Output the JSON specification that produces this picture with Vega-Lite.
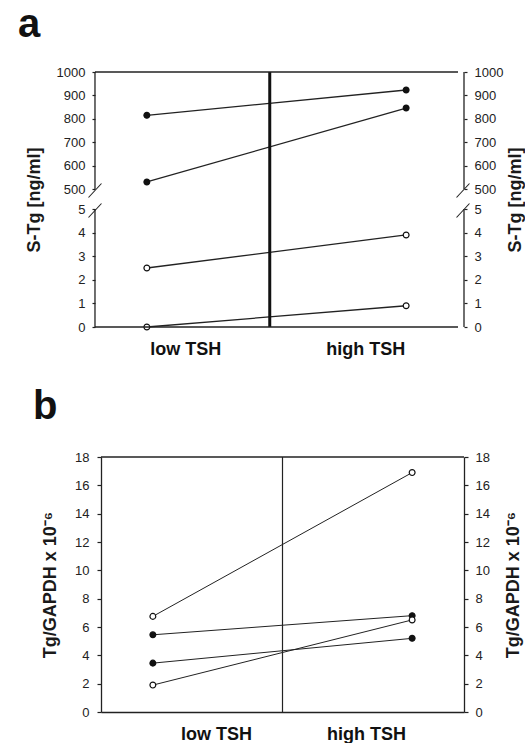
{
  "$schema": "https://vega.github.io/schema/vega-lite/v6.json",
  "padding": {"left": 18, "top": 5, "right": 0, "bottom": 0},
  "background": "white",
  "config": {
    "view": {"stroke": null},
    "font": "Liberation Sans",
    "axis": {"grid": false, "labelFont": "Liberation Sans", "labelFontSize": 13, "labelColor": "#222", "tickColor": "#222", "tickSize": 3, "tickWidth": 1.2, "labelPadding": 7, "domainColor": "#222", "domainWidth": 1.3, "titleFont": "Liberation Sans", "titleFontSize": 18, "titleFontWeight": "bold", "titleColor": "#1a1a1a"}
  },
  "datasets": {
    "panelA": [
      {"s": "a1", "tsh": "low TSH", "pos": 1, "v": 815, "g": "filled"},
      {"s": "a1", "tsh": "high TSH", "pos": 6, "v": 923, "g": "filled"},
      {"s": "a2", "tsh": "low TSH", "pos": 1, "v": 530, "g": "filled"},
      {"s": "a2", "tsh": "high TSH", "pos": 6, "v": 846, "g": "filled"},
      {"s": "a3", "tsh": "low TSH", "pos": 1, "v": 2.5, "g": "open"},
      {"s": "a3", "tsh": "high TSH", "pos": 6, "v": 3.9, "g": "open"},
      {"s": "a4", "tsh": "low TSH", "pos": 1, "v": 0, "g": "open"},
      {"s": "a4", "tsh": "high TSH", "pos": 6, "v": 0.9, "g": "open"}
    ],
    "panelB": [
      {"s": "b1", "tsh": "low TSH", "pos": 1, "v": 6.75, "g": "open"},
      {"s": "b1", "tsh": "high TSH", "pos": 6, "v": 16.9, "g": "open"},
      {"s": "b2", "tsh": "low TSH", "pos": 1, "v": 5.45, "g": "filled"},
      {"s": "b2", "tsh": "high TSH", "pos": 6, "v": 6.8, "g": "filled"},
      {"s": "b3", "tsh": "low TSH", "pos": 1, "v": 3.45, "g": "filled"},
      {"s": "b3", "tsh": "high TSH", "pos": 6, "v": 5.2, "g": "filled"},
      {"s": "b4", "tsh": "low TSH", "pos": 1, "v": 1.9, "g": "open"},
      {"s": "b4", "tsh": "high TSH", "pos": 6, "v": 6.5, "g": "open"}
    ],
    "segments": [{"lo": 0, "hi": 5}, {"lo": 500, "hi": 1000}],
    "breaks": [{"lvl": 5}, {"lvl": 500}]
  },
  "spacing": 29,
  "vconcat": [
    {
      "title": {"text": "a", "anchor": "start", "frame": "group", "dx": -83, "fontSize": 40, "fontWeight": "bold", "baseline": "alphabetic", "offset": -11, "color": "#111"},
      "width": 357,
      "height": 255,
      "resolve": {"axis": {"y": "independent"}},
      "layer": [
        {
          "data": {"name": "panelA"},
          "mark": {"type": "line", "color": "#222", "strokeWidth": 1.3},
          "encoding": {
            "x": {"field": "pos", "type": "quantitative", "scale": {"domain": [0.116, 7], "nice": false, "zero": false},
                  "axis": {"orient": "bottom", "values": [1.74, 5.21], "labelExpr": "datum.value < 3 ? 'low TSH' : 'high TSH'", "domain": false, "ticks": false, "title": null, "labelFontSize": 18, "labelFontWeight": "bold", "labelPadding": 13, "labelColor": "#111", "labelFlush": false, "labelOverlap": false}},
            "y": {"field": "v", "type": "quantitative", "scale": {"domain": [0, 5, 500, 1000], "range": [255, 137, 117, 0], "nice": false, "zero": false},
                  "axis": {"orient": "left", "offset": 6, "values": [0, 1, 2, 3, 4, 5, 500, 600, 700, 800, 900, 1000], "format": "d", "domain": false, "title": "S-Tg [ng/ml]", "titlePadding": 13}},
            "detail": {"field": "s"}
          }
        },
        {
          "data": {"name": "panelA"},
          "mark": {"type": "point", "filled": false, "stroke": "#111", "strokeWidth": 1.2, "size": 34, "opacity": 1},
          "encoding": {
            "x": {"field": "pos", "type": "quantitative", "scale": {"domain": [0.116, 7], "nice": false, "zero": false}},
            "y": {"field": "v", "type": "quantitative", "scale": {"domain": [0, 5, 500, 1000], "range": [255, 137, 117, 0], "nice": false, "zero": false},
                  "axis": {"orient": "right", "offset": 6, "values": [0, 1, 2, 3, 4, 5, 500, 600, 700, 800, 900, 1000], "format": "d", "domain": false, "title": "S-Tg [ng/ml]", "titleAngle": 270, "titlePadding": 22}},
            "fill": {"field": "g", "type": "nominal", "scale": {"domain": ["filled", "open"], "range": ["#111", "white"]}, "legend": null}
          }
        },
        {
          "data": {"name": "segments"},
          "mark": {"type": "rule", "color": "#222", "strokeWidth": 1.3},
          "encoding": {
            "x": {"datum": 0, "scale": {"domain": [0.116, 7], "nice": false, "zero": false}},
            "y": {"field": "lo", "type": "quantitative", "scale": {"domain": [0, 5, 500, 1000], "range": [255, 137, 117, 0], "nice": false, "zero": false}, "axis": null},
            "y2": {"field": "hi"}
          }
        },
        {
          "data": {"name": "segments"},
          "mark": {"type": "rule", "color": "#222", "strokeWidth": 1.3, "xOffset": 6},
          "encoding": {
            "x": {"datum": 7, "scale": {"domain": [0.116, 7], "nice": false, "zero": false}},
            "y": {"field": "lo", "type": "quantitative", "scale": {"domain": [0, 5, 500, 1000], "range": [255, 137, 117, 0], "nice": false, "zero": false}, "axis": null},
            "y2": {"field": "hi"}
          }
        },
        {
          "data": {"name": "breaks"},
          "mark": {"type": "rule", "color": "#222", "strokeWidth": 1.1, "yOffset": 8.5, "y2Offset": -5.5},
          "encoding": {
            "x": {"datum": -0.125, "scale": {"domain": [0.116, 7], "nice": false, "zero": false}},
            "x2": {"datum": 0.125},
            "y": {"field": "lvl", "type": "quantitative", "scale": {"domain": [0, 5, 500, 1000], "range": [255, 137, 117, 0], "nice": false, "zero": false}, "axis": null},
            "y2": {"field": "lvl"}
          }
        },
        {
          "data": {"name": "breaks"},
          "mark": {"type": "rule", "color": "#222", "strokeWidth": 1.1, "yOffset": 8.5, "y2Offset": -5.5, "xOffset": 5, "x2Offset": 5},
          "encoding": {
            "x": {"datum": 6.875, "scale": {"domain": [0.116, 7], "nice": false, "zero": false}},
            "x2": {"datum": 7.125},
            "y": {"field": "lvl", "type": "quantitative", "scale": {"domain": [0, 5, 500, 1000], "range": [255, 137, 117, 0], "nice": false, "zero": false}, "axis": null},
            "y2": {"field": "lvl"}
          }
        },
        {
          "data": {"values": [{}]},
          "mark": {"type": "rule", "color": "#111", "strokeWidth": 3},
          "encoding": {
            "x": {"datum": 3.37, "scale": {"domain": [0.116, 7], "nice": false, "zero": false}}
          }
        },
        {
          "data": {"values": [{}]},
          "mark": {"type": "rule", "color": "#222", "strokeWidth": 1.3},
          "encoding": {
            "x": {"datum": 0, "scale": {"domain": [0.116, 7], "nice": false, "zero": false}},
            "x2": {"datum": 7},
            "y": {"datum": 1000, "scale": {"domain": [0, 5, 500, 1000], "range": [255, 137, 117, 0], "nice": false, "zero": false}, "axis": null}
          }
        },
        {
          "data": {"values": [{}]},
          "mark": {"type": "rule", "color": "#222", "strokeWidth": 1.3},
          "encoding": {
            "x": {"datum": 0, "scale": {"domain": [0.116, 7], "nice": false, "zero": false}},
            "x2": {"datum": 7},
            "y": {"datum": 0, "scale": {"domain": [0, 5, 500, 1000], "range": [255, 137, 117, 0], "nice": false, "zero": false}, "axis": null}
          }
        }
      ]
    },
    {
      "title": {"text": "b", "anchor": "start", "frame": "group", "dx": -68, "fontSize": 40, "fontWeight": "bold", "baseline": "alphabetic", "offset": -8, "color": "#111"},
      "width": 363,
      "height": 255,
      "resolve": {"axis": {"y": "independent"}},
      "layer": [
        {
          "data": {"name": "panelB"},
          "mark": {"type": "line", "color": "#222", "strokeWidth": 1},
          "encoding": {
            "x": {"field": "pos", "type": "quantitative", "scale": {"domain": [0, 7], "nice": false, "zero": false},
                  "axis": {"orient": "bottom", "values": [2.22, 5.11], "labelExpr": "datum.value < 3 ? 'low TSH' : 'high TSH'", "domain": true, "ticks": false, "title": null, "labelFontSize": 18, "labelFontWeight": "bold", "labelPadding": 13, "labelColor": "#111", "labelFlush": false, "labelOverlap": false}},
            "y": {"field": "v", "type": "quantitative", "scale": {"domain": [0, 18], "nice": false, "zero": false},
                  "axis": {"orient": "left", "values": [0, 2, 4, 6, 8, 10, 12, 14, 16, 18], "domain": true, "tickSize": 4, "labelPadding": 8, "title": "Tg/GAPDH x 10⁻⁶", "titlePadding": 15}},
            "detail": {"field": "s"}
          }
        },
        {
          "data": {"name": "panelB"},
          "mark": {"type": "point", "filled": false, "stroke": "#111", "strokeWidth": 1.2, "size": 34, "opacity": 1},
          "encoding": {
            "x": {"field": "pos", "type": "quantitative", "scale": {"domain": [0, 7], "nice": false, "zero": false}},
            "y": {"field": "v", "type": "quantitative", "scale": {"domain": [0, 18], "nice": false, "zero": false},
                  "axis": {"orient": "right", "values": [0, 2, 4, 6, 8, 10, 12, 14, 16, 18], "domain": true, "tickSize": 4, "labelPadding": 7, "title": "Tg/GAPDH x 10⁻⁶", "titleAngle": 270, "titlePadding": 33}},
            "fill": {"field": "g", "type": "nominal", "scale": {"domain": ["filled", "open"], "range": ["#111", "white"]}, "legend": null}
          }
        },
        {
          "data": {"values": [{}]},
          "mark": {"type": "rule", "color": "#222", "strokeWidth": 1.2},
          "encoding": {
            "x": {"datum": 3.5, "scale": {"domain": [0, 7], "nice": false, "zero": false}}
          }
        },
        {
          "data": {"values": [{}]},
          "mark": {"type": "rule", "color": "#222", "strokeWidth": 1.3},
          "encoding": {
            "y": {"datum": 18, "scale": {"domain": [0, 18], "nice": false, "zero": false}, "axis": null}
          }
        }
      ]
    }
  ]
}
